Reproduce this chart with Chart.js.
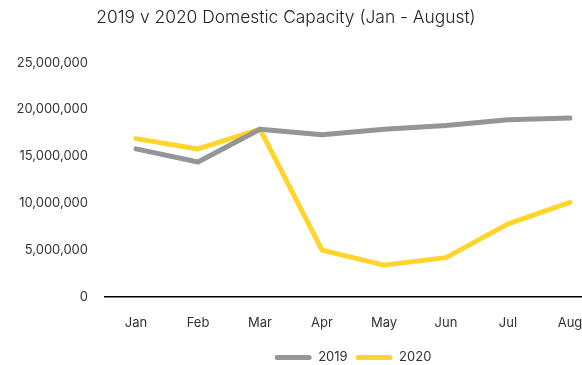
<!DOCTYPE html>
<html>
<head>
<meta charset="utf-8">
<script src="https://cdn.jsdelivr.net/npm/chart.js@4/dist/chart.umd.min.js"></script>
<style>
  html, body { margin: 0; padding: 0; background: #fff; overflow: hidden; }
  #wrap { position: relative; width: 582px; height: 365px; overflow: hidden; }
  /* canvas sedikit lebih lebar supaya sumbu x terpotong di kanan seperti aslinya */
  #chart { position: absolute; left: -29px; top: 0; }
</style>
</head>
<body>
<div id="wrap">
  <canvas id="chart" width="630" height="365"></canvas>
</div>
<script>
// Data kapasitas domestik
const months = ['Jan', 'Feb', 'Mar', 'Apr', 'May', 'Jun', 'Jul', 'Aug'];
const capacity2019 = [15800000, 14400000, 17900000, 17300000, 17900000, 18300000, 18900000, 19100000];
const capacity2020 = [16900000, 15800000, 17900000, 5000000, 3400000, 4200000, 7800000, 10100000];
const yTicks = [0, 5000000, 10000000, 15000000, 20000000, 25000000];

const grey = '#939598';
const yellow = '#FFD52B';
const fontFamily = 'Inter';

const ctx = document.getElementById('chart').getContext('2d');
const chart = new Chart(ctx, {
    type: 'line',
    data: {
        labels: months,
        datasets: [{
            label: '2019',
            data: capacity2019,
            borderColor: grey,
            backgroundColor: grey,
            borderWidth: 5,
            pointRadius: 0,
            tension: 0,
            borderCapStyle: 'round',
            borderJoinStyle: 'round'
        }, {
            label: '2020',
            data: capacity2020,
            borderColor: yellow,
            backgroundColor: yellow,
            borderWidth: 5,
            pointRadius: 0,
            tension: 0,
            borderCapStyle: 'round',
            borderJoinStyle: 'round'
        }]
    },
    options: {
        responsive: false,
        animation: false,
        layout: { padding: { left: 0, right: 0, top: 0, bottom: -9 } },
        plugins: {
            title: {
                display: true,
                text: '2019 v 2020 Domestic Capacity (Jan - August)',
                color: '#222',
                font: { family: fontFamily, size: 17.4, weight: 300 },
                padding: { top: 7.6, bottom: 34.2 }
            },
            legend: {
                position: 'bottom',
                fullSize: false,
                labels: {
                    color: '#333',
                    font: { family: fontFamily, size: 13 },
                    boxWidth: 37,
                    boxHeight: 5,
                    useBorderRadius: true,
                    borderRadius: 2.5,
                    padding: 8,
                    generateLabels: function (c) {
                        const items = Chart.defaults.plugins.legend.labels.generateLabels(c);
                        items.forEach(it => { it.lineWidth = 0; });
                        return items;
                    }
                }
            },
            tooltip: { enabled: false }
        },
        scales: {
            x: {
                offset: true,
                afterFit: function (s) { s.height = 46; },
                grid: { color: 'transparent', drawTicks: false },
                border: { display: true, color: '#000', width: 1.5 },
                ticks: {
                    color: '#333',
                    font: { family: fontFamily, size: 13 },
                    padding: 18,
                    maxRotation: 0,
                    autoSkip: false
                }
            },
            y: {
                min: 0,
                max: 25000000,
                afterFit: function (s) { s.width = 134; },
                afterBuildTicks: function (s) { s.ticks = yTicks.map(v => ({ value: v })); },
                grid: { color: 'transparent', drawTicks: false },
                border: { display: false },
                ticks: {
                    color: '#333',
                    font: { family: fontFamily, size: 13 },
                    padding: 17,
                    callback: function (v) { return v.toLocaleString('en-US'); }
                }
            }
        }
    }
});
</script>
</body>
</html>
